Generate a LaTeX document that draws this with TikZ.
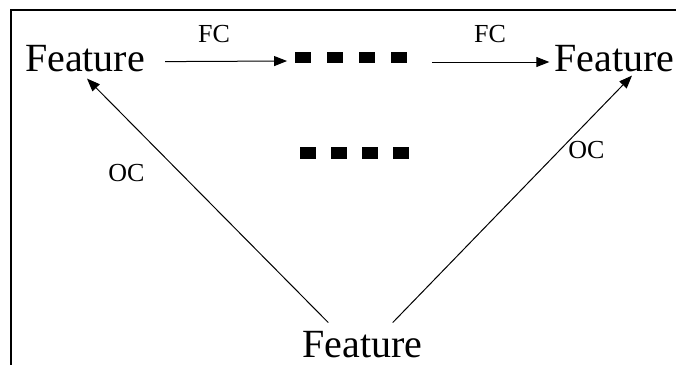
\documentclass[tikz,border=0pt]{standalone}
\usepackage{fontspec}
\setmainfont{Liberation Serif}
\usepackage{tikz}
\usetikzlibrary{arrows.meta, positioning}

\begin{document}
\begin{tikzpicture}[
    x=1pt, y=-1pt,
    feat/.style={inner sep=0pt, anchor=base, font=\fontsize{40}{48}\selectfont},
    lbl/.style={inner sep=0pt, anchor=base, font=\fontsize{26}{30}\selectfont},
    sq/.style={fill=black, inner sep=0pt, minimum width=15.5pt, minimum height=11.5pt},
    link/.style={line width=1pt, -{Triangle[length=13pt, width=10pt]}},
]
    \useasboundingbox (0,0) rectangle (676,365);

    % Frame (only top and left edges show)
    \draw[line width=2.5pt] (676,10) -- (11,10) -- (11,365);

    % Feature nodes
    \node[feat] (featL) at (85,71) {Feature};
    \node[feat] (featR) at (614.5,71) {Feature};
    \node[feat] (featB) at (362.5,357) {Feature};

    % Rows of squares
    \foreach \i in {1,...,4}
        \node[sq] (top\i) at (271+32*\i,57.5) {};
    \foreach \i in {1,...,4}
        \node[sq, minimum height=12pt] (mid\i) at (277+31*\i,153) {};

    % FC connectors
    \draw[link] ([xshift=20pt, yshift=-3.5pt]featL.east) -- ([xshift=-8pt, yshift=-3.5pt]top1.west);
    \draw[link] ([xshift=25pt, yshift=-4.5pt]top4.east) -- ([xshift=-5pt, yshift=-4.5pt]featR.west |- top4.east);
    \node[lbl] (fc1) at (214,42) {FC};
    \node[lbl] (fc2) at (490,42) {FC};

    % OC connectors
    \draw[link] ([xshift=26pt, yshift=8pt]featB.north west) -- ([xshift=2pt, yshift=-7pt]featL.south);
    \draw[link] ([xshift=-30pt, yshift=8pt]featB.north east) -- ([xshift=17.5pt, yshift=-4pt]featR.south);
    \node[lbl] (oc1) at (126.5,181) {OC};
    \node[lbl] (oc2) at (586.5,158) {OC};

\end{tikzpicture}
\end{document}
